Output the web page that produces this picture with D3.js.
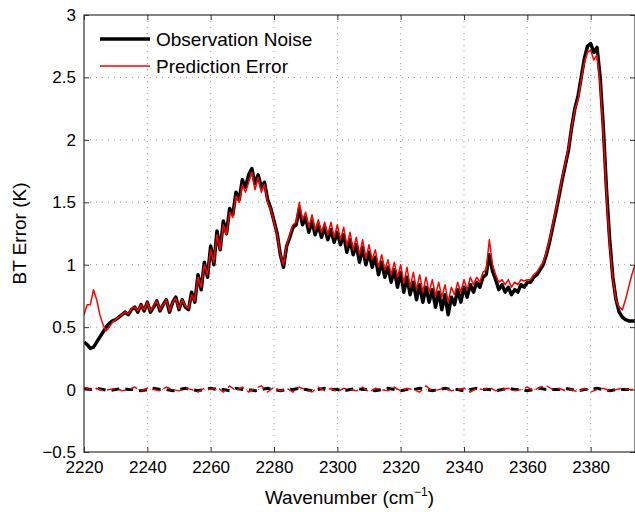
<!DOCTYPE html>
<html><head><meta charset="utf-8">
<script src="https://cdn.jsdelivr.net/npm/d3@7"></script>
<style>body{margin:0;background:#fff}svg{font-family:"Liberation Sans",Arial,sans-serif}</style>
</head><body><svg id="c" width="635" height="512"></svg>
<script>
// wavenumber grid: 2220..2394, 1 cm-1 step
var waveStart = 2220;
var obsNoise = [
 .38,.36,.33,.34,.38,.42,.46,.50,.53,.55,
 .56,.58,.60,.62,.60,.64,.66,.62,.68,.63,
 .70,.62,.66,.71,.63,.68,.72,.62,.70,.74,
 .64,.72,.66,.64,.78,.70,.92,.80,1.02,.90,
 1.15,1.00,1.27,1.12,1.35,1.25,1.45,1.40,1.58,1.52,
 1.68,1.62,1.72,1.77,1.65,1.72,1.62,1.66,1.52,1.45,
 1.35,1.25,1.08,.98,1.15,1.22,1.30,1.32,1.45,1.32,
 1.38,1.26,1.35,1.24,1.32,1.22,1.30,1.20,1.28,1.18,
 1.26,1.16,1.24,1.10,1.20,1.08,1.16,1.02,1.14,1.00,
 1.10,.98,1.06,.92,1.02,.90,.98,.86,.96,.82,
 .94,.78,.90,.76,.86,.72,.84,.70,.82,.70,
 .80,.66,.78,.64,.76,.60,.74,.68,.80,.70,
 .82,.74,.84,.78,.86,.82,.90,.92,1.08,.95,
 .88,.80,.84,.78,.82,.76,.80,.78,.84,.82,
 .86,.86,.90,.92,.96,1.00,1.08,1.18,1.30,1.42,
 1.55,1.68,1.80,1.92,2.10,2.25,2.35,2.50,2.65,2.75,
 2.77,2.70,2.74,2.50,2.10,1.60,1.20,.90,.72,.62,
 .58,.56,.55,.55,.55];
var predError = [
 .60,.68,.68,.80,.72,.60,.52,.47,.50,.54,
 .56,.58,.60,.62,.61,.65,.66,.63,.68,.64,
 .70,.63,.67,.71,.64,.68,.72,.63,.70,.73,
 .65,.72,.67,.65,.76,.71,.90,.82,1.00,.92,
 1.12,1.02,1.24,1.12,1.32,1.24,1.42,1.38,1.55,1.50,
 1.64,1.58,1.66,1.74,1.60,1.70,1.58,1.64,1.50,1.44,
 1.34,1.24,1.08,1.00,1.16,1.24,1.32,1.34,1.50,1.36,
 1.42,1.30,1.40,1.28,1.36,1.26,1.34,1.24,1.34,1.22,
 1.32,1.20,1.30,1.15,1.26,1.12,1.22,1.08,1.20,1.05,
 1.16,1.04,1.12,.98,1.08,.96,1.04,.92,1.02,.90,
 1.00,.85,.98,.82,.94,.80,.92,.78,.90,.78,
 .88,.75,.86,.74,.84,.70,.82,.76,.86,.78,
 .88,.80,.90,.84,.90,.86,.94,.96,1.20,1.00,
 .92,.86,.88,.84,.88,.82,.86,.84,.88,.87,
 .88,.88,.92,.94,.98,1.02,1.10,1.20,1.32,1.44,
 1.56,1.70,1.82,1.94,2.10,2.24,2.32,2.48,2.62,2.70,
 2.72,2.64,2.68,2.44,2.05,1.55,1.15,.88,.72,.66,
 .64,.72,.82,.92,1.00];
// zero-mean (bias) curves, 2 cm-1 step
var obsBias = [
 .01,.00,.01,.00,-.01,.00,.01,.00,.00,-.01,.00,.01,.00,.00,-.01,.00,.01,.00,-.01,.00,
 .01,.00,.00,-.01,.01,.00,.00,-.01,.00,.01,.00,-.01,.00,.00,.01,.00,-.01,.00,.01,.00,
 .00,-.01,.00,.01,.00,.00,-.01,.00,.01,.00,-.01,.00,.00,.01,.00,-.01,.00,.01,.00,.00,
 -.01,.00,.01,.00,.00,-.01,.00,.01,.00,.00,-.01,.00,.01,.00,.00,.00,.01,.00,-.01,.00,
 .00,.01,.00,-.01,.00,.00,.00,.00];
var predBias = [
 .02,.00,.01,-.01,.00,.01,-.01,.00,.02,-.01,.01,.00,-.01,.02,.00,-.01,.01,.00,-.02,.01,
 .00,.02,-.02,.03,-.01,.02,-.02,.01,.03,-.02,.02,-.01,.01,-.02,.02,.00,-.02,.02,-.01,.01,
 -.02,.01,.00,-.01,.02,-.02,.01,.00,-.01,.02,-.01,.01,.00,-.02,.03,-.01,.00,.01,-.01,.00,
 .01,-.02,.01,.00,.02,-.01,.00,.01,-.01,.00,.02,-.01,.02,.03,.00,.01,-.01,.00,-.02,.01,
 -.02,.00,.01,-.01,.00,.01,.00,.00];
var xTicks = [2220,2240,2260,2280,2300,2320,2340,2360,2380];
var yTicks = [-0.5,0,0.5,1,1.5,2,2.5,3];
var legendLabels = ["Observation Noise","Prediction Error"];

var svg = d3.select("#c");
var L = 84, R = 635, T = 15, B = 452;
var x = d3.scaleLinear().domain([2220, 2394]).range([L, R]);
var y = d3.scaleLinear().domain([-0.5, 3]).range([B, T]);

var g = svg.append("g");
// grid
g.selectAll(".gx").data(xTicks.slice(1)).enter().append("line")
  .attr("x1", d => x(d)).attr("x2", d => x(d)).attr("y1", T).attr("y2", B)
  .attr("stroke", "#999").attr("stroke-width", 1).attr("stroke-dasharray", "1,5");
g.selectAll(".gy").data(yTicks.slice(1, -1)).enter().append("line")
  .attr("y1", d => y(d)).attr("y2", d => y(d)).attr("x1", L).attr("x2", R)
  .attr("stroke", "#999").attr("stroke-width", 1).attr("stroke-dasharray", "1,5");

var clip = svg.append("clipPath").attr("id", "cp").append("rect")
  .attr("x", L).attr("y", T).attr("width", R - L).attr("height", B - T);
var plot = svg.append("g").attr("clip-path", "url(#cp)");

function line(step) {
  return d3.line().x((d, i) => x(waveStart + i * step)).y(d => y(d));
}
plot.append("path").attr("d", line(2)(obsBias)).attr("fill", "none")
  .attr("stroke", "#000").attr("stroke-width", 3).attr("stroke-dasharray", "8,6");
plot.append("path").attr("d", line(2)(predBias)).attr("fill", "none")
  .attr("stroke", "#f00").attr("stroke-width", 1.4).attr("stroke-dasharray", "8,4");
plot.append("path").attr("d", line(1)(obsNoise)).attr("fill", "none")
  .attr("stroke", "#000").attr("stroke-width", 3.5).attr("stroke-linejoin", "round");
plot.append("path").attr("d", line(1)(predError)).attr("fill", "none")
  .attr("stroke", "#f00").attr("stroke-width", 1.5).attr("stroke-linejoin", "round");

// axes
var ax = d3.axisBottom(x).tickValues(xTicks).tickSize(-5).tickPadding(9).tickFormat(d3.format("d"));
var ay = d3.axisLeft(y).tickValues(yTicks).tickSize(-5).tickPadding(8)
  .tickFormat(d => d < 0 ? "\u2212" + Math.abs(d) : d);
var gxA = svg.append("g").attr("transform", "translate(0," + B + ")").call(ax);
var gyA = svg.append("g").attr("transform", "translate(" + L + ",0)").call(ay);
svg.append("g").attr("transform", "translate(0," + T + ")")
  .call(d3.axisTop(x).tickValues(xTicks).tickSize(-5).tickFormat(""));
svg.append("g").attr("transform", "translate(" + R + ",0)")
  .call(d3.axisRight(y).tickValues(yTicks).tickSize(-5).tickFormat(""));
svg.selectAll(".domain").remove();
svg.selectAll(".tick line").attr("stroke", "#333");
svg.selectAll(".tick text").attr("font-size", 17).attr("fill", "#000")
  .attr("font-family", "Liberation Sans, Arial, sans-serif");
svg.append("rect").attr("x", L).attr("y", T).attr("width", R - L).attr("height", B - T)
  .attr("fill", "none").attr("stroke", "#333").attr("stroke-width", 1.2);

svg.append("text").attr("x", (L + R) / 2 - 10).attr("y", 504).attr("text-anchor", "middle")
  .attr("font-size", 19).html('Wavenumber (cm<tspan dy="-8" font-size="12">\u22121</tspan><tspan dy="8">)</tspan>');
svg.append("text").attr("transform", "translate(26," + ((T + B) / 2) + ") rotate(-90)")
  .attr("text-anchor", "middle").attr("font-size", 19).text("BT Error (K)");

// legend
var lg = svg.append("g").attr("transform", "translate(100,39)");
lg.selectAll("line").data(legendLabels).enter().append("line")
  .attr("x1", 0).attr("x2", 50).attr("y1", (d, i) => i * 27).attr("y2", (d, i) => i * 27)
  .attr("stroke", (d, i) => i ? "#f00" : "#000").attr("stroke-width", (d, i) => i ? 1.5 : 3.5);
lg.selectAll("text").data(legendLabels).enter().append("text")
  .attr("x", 56).attr("y", (d, i) => i * 27 + 7).attr("font-size", 19).text(d => d);
</script></body></html>
